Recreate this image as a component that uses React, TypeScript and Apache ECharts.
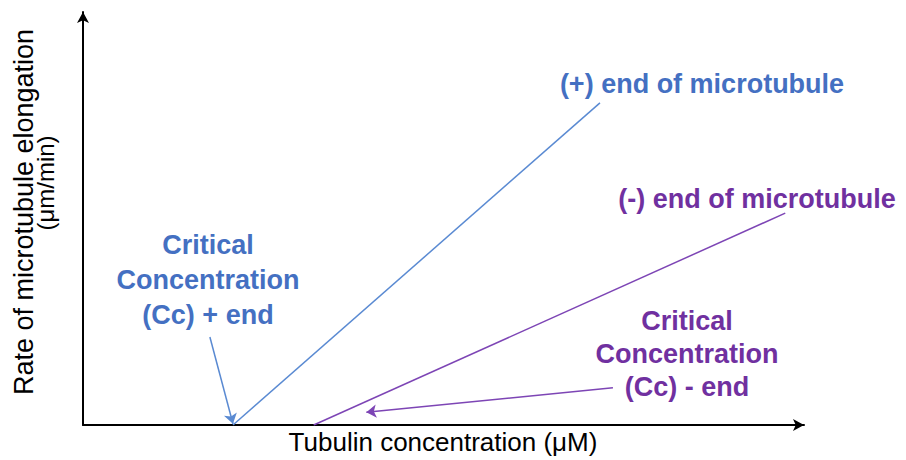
import React, { useEffect, useRef } from "react";
import * as echarts from "echarts";

const plusEnd: [number, number][] = [
  [20.8, 0],
  [71.7, 78.0],
];
const minusEnd: [number, number][] = [
  [32.0, 0],
  [97.4, 51.3],
];
const plusArrow: [number, number][] = [
  [17.6, 21.3],
  [20.8, 0.3],
];
const minusArrow: [number, number][] = [
  [73.5, 9.0],
  [39.3, 3.1],
];
const xName = "Tubulin concentration (μM)";
const yName1 = "Rate of microtubule elongation";
const yName2 = "(μm/min)";
const plusLabel = "(+) end of microtubule";
const minusLabel = "(-) end of microtubule";
const ccPlus = ["Critical", "Concentration", "(Cc) + end"];
const ccMinus = ["Critical", "Concentration", "(Cc) - end"];

const BLUE_TEXT = "#4470c2";
const BLUE_LINE = "#5a8ad2";
const PURPLE_TEXT = "#7030a0";
const PURPLE_LINE = "#7d45b5";
const FONT = "'Liberation Sans', Arial, sans-serif";

export default function App() {
  const ref = useRef<HTMLDivElement>(null);
  useEffect(() => {
    document.body.style.margin = "0";
    if (!ref.current) return;
    const chart = echarts.init(ref.current, null, { renderer: "svg" });
    const bold = (text: string, x: number, y: number, color: string) => ({
      type: "text",
      x,
      y,
      style: {
        text,
        fill: color,
        font: `bold 27px ${FONT}`,
        textAlign: "center",
        textVerticalAlign: "middle",
      },
    });
    const plain = (text: string, x: number, y: number, size: number, rot = 0) => ({
      type: "text",
      x,
      y,
      rotation: rot,
      style: {
        text,
        fill: "#000",
        font: `${size}px ${FONT}`,
        textAlign: "center",
        textVerticalAlign: "middle",
      },
    });
    const graphics: any[] = [
      bold(plusLabel, 702, 84, BLUE_TEXT),
      bold(minusLabel, 757, 199, PURPLE_TEXT),
      ...ccPlus.map((t, i) => bold(t, 208, 245 + i * 35, BLUE_TEXT)),
      ...ccMinus.map((t, i) => bold(t, 687, 321 + i * 33, PURPLE_TEXT)),
      plain(xName, 443, 442, 26),
      plain(yName1, 24, 212, 27, Math.PI / 2),
      plain(yName2, 45, 183, 24, Math.PI / 2),
    ];
    const axisCommon = {
      type: "value" as const,
      min: 0,
      max: 100,
      axisLine: {
        show: true,
        symbol: ["none", "arrow"],
        symbolSize: [9, 11],
        lineStyle: { color: "#000", width: 2 },
      },
      axisTick: { show: false },
      axisLabel: { show: false },
      splitLine: { show: false },
    };
    chart.setOption({
      animation: false,
      grid: { left: 83, right: 102, top: 12, bottom: 35 },
      xAxis: { ...axisCommon },
      yAxis: { ...axisCommon },
      graphic: graphics,
      series: [
        {
          type: "line",
          data: plusEnd,
          showSymbol: false,
          lineStyle: { color: BLUE_LINE, width: 1.5 },
          markLine: {
            silent: true,
            symbol: ["none", "arrow"],
            symbolSize: 10,
            label: { show: false },
            lineStyle: { color: BLUE_LINE, width: 1.5, type: "solid" },
            data: [[{ coord: plusArrow[0] }, { coord: plusArrow[1] }]],
          },
        },
        {
          type: "line",
          data: minusEnd,
          showSymbol: false,
          lineStyle: { color: PURPLE_LINE, width: 1.5 },
          markLine: {
            silent: true,
            symbol: ["none", "arrow"],
            symbolSize: 10,
            label: { show: false },
            lineStyle: { color: PURPLE_LINE, width: 1.5, type: "solid" },
            data: [[{ coord: minusArrow[0] }, { coord: minusArrow[1] }]],
          },
        },
      ],
    });
    return () => chart.dispose();
  }, []);
  return <div ref={ref} style={{ width: 906, height: 460 }} />;
}
